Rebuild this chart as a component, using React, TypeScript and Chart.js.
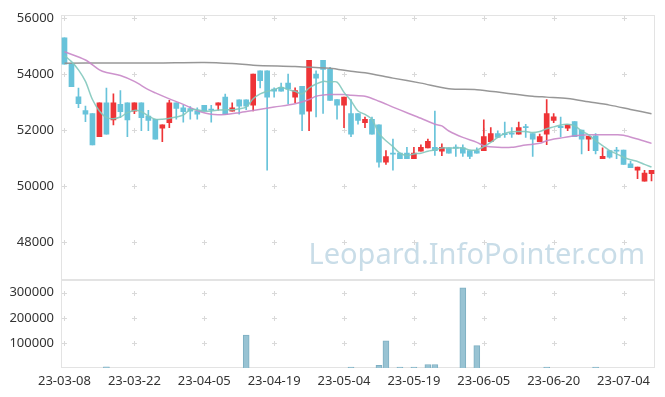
import React, { useEffect, useRef } from "react";
import { Chart, registerables } from "chart.js";
Chart.register(...registerables);

const dates = [
  "23-03-08","23-03-09","23-03-10","23-03-13","23-03-14","23-03-15","23-03-16","23-03-17","23-03-20","23-03-21",
  "23-03-22","23-03-23","23-03-24","23-03-27","23-03-28","23-03-29","23-03-30","23-03-31","23-04-03","23-04-04",
  "23-04-05","23-04-06","23-04-07","23-04-10","23-04-11","23-04-12","23-04-13","23-04-14","23-04-17","23-04-18",
  "23-04-19","23-04-20","23-04-21","23-04-24","23-04-25","23-04-26","23-04-27","23-04-28","23-05-02","23-05-03",
  "23-05-04","23-05-08","23-05-09","23-05-10","23-05-11","23-05-12","23-05-15","23-05-16","23-05-17","23-05-18",
  "23-05-19","23-05-22","23-05-23","23-05-24","23-05-25","23-05-26","23-05-30","23-05-31","23-06-01","23-06-02",
  "23-06-05","23-06-07","23-06-08","23-06-09","23-06-12","23-06-13","23-06-14","23-06-15","23-06-16","23-06-19",
  "23-06-20","23-06-21","23-06-22","23-06-23","23-06-26","23-06-27","23-06-28","23-06-29","23-06-30","23-07-03",
  "23-07-04","23-07-05","23-07-06","23-07-07","23-07-10",
];

const opens = [
  55300,54380,53190,52700,52590,51770,52980,52370,52920,52980,
  52680,52980,52500,52390,52070,52270,52980,52800,52770,52680,
  52890,52750,52890,53180,52680,53080,53080,52890,54120,54120,
  53470,53530,53680,53180,53570,52680,54000,54490,54170,53090,
  52890,52590,52590,52270,52390,52190,50860,51180,51180,51180,
  50980,51250,51370,51390,51250,51370,51390,51370,51270,51270,
  51270,51590,51880,51880,51880,51860,52130,51880,51590,51860,
  52350,52140,52070,52310,52000,51680,51800,50980,51270,51270,
  51290,50800,50570,50180,50450,
];
const highs = [
  55300,54380,53500,52860,52590,52980,53500,53300,53410,52980,
  52980,52980,52710,52390,52190,53070,52980,52890,52840,52800,
  52890,52890,52980,53290,52980,53080,53080,54000,54120,54120,
  53510,53680,54000,53510,53570,54490,54120,54490,54240,53090,
  53180,53090,52590,52470,52470,52190,51270,51680,51180,51390,
  51390,51480,51680,52680,51510,51370,51480,51480,51270,51370,
  52370,52090,51980,52290,52090,52290,52210,51880,51860,53090,
  52590,52470,52210,52310,52000,51780,51880,51370,51270,51390,
  51290,50890,50680,50570,50570,
];
const lows = [
  54360,53550,52800,52300,51470,51770,51860,52190,52450,51770,
  52590,51980,51980,51680,51590,52090,52390,52290,52390,52390,
  52680,52290,52710,52570,52680,52570,52730,52690,53510,50570,
  53180,53390,52940,52980,51980,51980,52470,52600,53060,52390,
  52090,51770,52210,52090,51860,50680,50780,50570,50980,50980,
  50980,51250,51370,51100,51090,51180,51060,51060,50980,51180,
  51270,51590,51740,51740,51740,51860,51740,51060,51590,51480,
  52270,51770,51980,51770,51150,51270,51150,50980,51000,50980,
  50780,50660,50270,50180,50190,
];
const closes = [
  54360,53550,52950,52570,51470,52980,51860,52980,52660,52370,
  52980,52450,52350,51680,52190,52980,52780,52660,52680,52570,
  52680,52720,52980,52570,52800,52860,52860,54000,53770,53180,
  53390,53390,53470,53410,52570,54490,53860,54170,53060,52890,
  53180,51860,52350,52390,51860,50860,51060,51140,50980,50980,
  51180,51390,51600,51270,51390,51180,51360,51180,51060,51180,
  51770,51880,51740,51840,51860,52090,52090,51680,51770,52590,
  52480,52090,52210,51770,51680,51780,51270,51070,51040,51250,
  50780,50660,50680,50470,50570,
];
const volumes = [
  0,0,0,0,0,0,5000,0,0,0,
  0,0,0,0,0,0,0,0,0,0,
  0,0,0,0,0,0,131000,0,0,0,
  0,0,0,0,0,0,0,0,0,0,
  0,4000,0,0,0,11000,108000,0,4000,0,
  4000,0,14000,14000,0,0,0,320000,0,89000,
  0,0,0,0,0,0,0,0,0,4000,
  0,0,0,0,0,0,4000,0,0,0,
  0,0,0,0,0,
];
const ma5 = [
  54660,54447,54153,53741,53094,52682,52447,52412,52471,52624,
  52706,52659,52506,52388,52388,52424,52471,52541,52730,52730,
  52682,52682,52718,52730,52730,52765,52824,53120,53294,53388,
  53447,53529,53447,53388,53294,53506,53647,53741,53718,53718,
  53350,53050,52682,52565,52388,51882,51624,51412,51176,51094,
  51153,51176,51247,51294,51365,51365,51365,51365,51294,51294,
  51412,51565,51741,51882,51941,51953,51953,51918,51953,52050,
  52118,52188,52212,52153,51977,51835,51624,51447,51271,51153,
  51035,50941,50882,50777,50682,
];
// [index, value] samples
const ma20Points = [
  [0,54800],[3,54506],[5,54153],[6,54059],[8,53953],[10,53741],[12,53447],[13,53330],[15,53118],
  [17,52920],[19,52700],[21,52565],[23,52560],[25,52624],[27,52706],[30,52824],[33,52941],[35,53094],
  [36,53212],[38,53271],[40,53271],[41,53250],[43,53212],[45,53035],[47,52824],[49,52624],[51,52424],
  [53,52212],[54,52153],[55,51970],[57,51741],[59,51565],[60,51447],[62,51388],[64,51388],[66,51470],
  [68,51529],[69,51624],[71,51718],[73,51800],[75,51835],[77,51835],[79,51835],[80,51820],[82,51682],[84,51529],
];
const ma60Points = [
  [0,54390],[6,54400],[13,54400],[20,54420],[24,54380],[27,54320],[33,54270],[38,54212],[41,54100],
  [43,54050],[47,53859],[51,53680],[55,53482],[59,53447],[63,53329],[67,53212],[69,53180],[72,53130],
  [75,53012],[78,52894],[81,52741],[84,52588],
];
const priceTicks = [48000, 50000, 52000, 54000, 56000];
const volumeTicks = [100000, 200000, 300000];
const labelEvery = 10;
const watermark = "Leopard.InfoPointer.com";

const RED = "#ee3437";
const BLUE = "#68c3da";

function sparse(points) {
  const arr = dates.map(() => null);
  points.forEach(([i, v]) => { arr[i] = v; });
  return arr;
}

const panelPlugin = {
  id: "panels",
  beforeDatasetsDraw(chart) {
    const { ctx, chartArea, scales } = chart;
    const x = scales.x, y = scales.y, yv = scales.yv;
    ctx.save();
    ctx.font = '29px "Noto Sans"';
    ctx.fillStyle = "#c9dde8";
    ctx.textAlign = "right";
    ctx.textBaseline = "alphabetic";
    ctx.fillText(watermark, 645, y.bottom - 16);

    ctx.strokeStyle = "#e3e3e3";
    ctx.lineWidth = 1;
    const L = Math.round(chartArea.left) + 0.5;
    const R = Math.round(chartArea.right) - 0.5;
    [y, yv].forEach((s) => {
      const t = Math.round(s.top) + 0.5;
      const b = Math.round(s.bottom) - 0.5;
      ctx.strokeRect(L, t, R - L, b - t);
    });
    ctx.strokeStyle = "#d9d9d9";
    ctx.beginPath();
    for (let i = 0; i < dates.length; i += labelEvery) {
      const px = Math.round(x.getPixelForValue(i)) + 0.5;
      [y, yv].forEach((s) => {
        s.ticks.forEach((t) => {
          const py = Math.round(s.getPixelForValue(t.value)) + 0.5;
          ctx.moveTo(px - 2.5, py); ctx.lineTo(px + 2.5, py);
          ctx.moveTo(px, py - 2.5); ctx.lineTo(px, py + 2.5);
        });
      });
    }
    ctx.stroke();
    ctx.restore();
  },
};

export default function App() {
  const ref = useRef(null);
  useEffect(() => {
    document.body.style.margin = "0";
    const colors = closes.map((c, i) => (c >= opens[i] ? RED : BLUE));
    const font = { family: '"Noto Sans", sans-serif', size: 13 };
    const chart = new Chart(ref.current, {
      type: "bar",
      data: {
        labels: dates,
        datasets: [
          { type: "line", label: "ma5", data: ma5, borderColor: "rgba(130,200,188,0.9)", borderWidth: 1.5, pointRadius: 0, tension: 0.3, yAxisID: "y", order: 0 },
          { type: "line", label: "ma20", data: sparse(ma20Points), spanGaps: true, borderColor: "rgba(200,135,200,0.9)", borderWidth: 1.5, pointRadius: 0, tension: 0.3, yAxisID: "y", order: 0 },
          { type: "line", label: "ma60", data: sparse(ma60Points), spanGaps: true, borderColor: "rgba(145,145,145,0.95)", borderWidth: 1.5, pointRadius: 0, tension: 0.3, yAxisID: "y", order: 0 },
          { type: "bar", label: "wick", data: lows.map((l, i) => [l, highs[i]]), backgroundColor: colors, barThickness: 1, minBarLength: 1, grouped: false, yAxisID: "y", order: 2 },
          { type: "bar", label: "body", data: opens.map((o, i) => [o, closes[i]]), backgroundColor: colors, barThickness: 5, minBarLength: 1, grouped: false, yAxisID: "y", order: 1 },
          { type: "bar", label: "volume", data: volumes.map((v) => (v ? v : null)), backgroundColor: "#98c3d3", borderColor: "#7eafc2", borderWidth: 1, barThickness: 6, grouped: false, yAxisID: "yv", order: 2 },
        ],
      },
      options: {
        animation: false,
        responsive: false,
        layout: { padding: { top: 11, right: 10, left: 0, bottom: 0 } },
        plugins: { legend: { display: false }, tooltip: { enabled: false } },
        scales: {
          x: {
            type: "category",
            offset: true,
            grid: { display: false, drawTicks: false },
            border: { display: false },
            ticks: {
              autoSkip: false, maxRotation: 0, minRotation: 0, padding: 5, color: "#333", font,
              callback: (v, i) => (i % labelEvery === 0 ? dates[i] : ""),
            },
            afterFit: (s) => { s.height = 29; },
          },
          y: {
            type: "linear", position: "left", stack: "panes", stackWeight: 3, weight: 2,
            min: 46660, max: 56120,
            grid: { display: false, drawTicks: false },
            border: { display: false },
            ticks: { padding: 7, color: "#333", font, callback: (v) => String(v) },
            afterBuildTicks: (s) => { s.ticks = priceTicks.map((v) => ({ value: v })); },
            afterFit: (s) => { s.width = 61; },
          },
          yv: {
            type: "linear", position: "left", stack: "panes", stackWeight: 1, weight: 1,
            min: 0, max: 352000,
            grid: { display: false, drawTicks: false },
            border: { display: false },
            ticks: { padding: 7, color: "#333", font, callback: (v) => String(v) },
            afterBuildTicks: (s) => { s.ticks = volumeTicks.map((v) => ({ value: v })); },
            afterFit: (s) => { s.width = 61; },
          },
        },
      },
      plugins: [panelPlugin],
    });
    return () => chart.destroy();
  }, []);
  return <canvas ref={ref} width={665} height={397} style={{ display: "block" }} />;
}
